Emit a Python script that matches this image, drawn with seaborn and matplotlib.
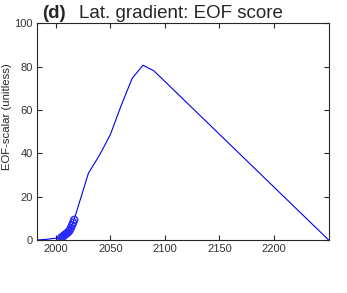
import matplotlib
matplotlib.use("Agg")
import matplotlib.pyplot as plt
import pandas as pd
import seaborn as sns

# EOF score of the latitudinal gradient
# observed years (plotted with circles)
obs_years = [2005, 2006, 2007, 2008, 2009, 2010, 2011, 2012, 2013, 2014, 2015, 2016, 2017]
obs_score = [1.0, 1.4, 1.8, 2.2, 2.6, 3.0, 3.4, 3.9, 4.6, 5.6, 6.8, 8.0, 9.3]

# full trajectory (line)
line_years = [1983, 1990, 1995, 2000, 2005, 2008, 2011, 2014, 2017,
              2030, 2040, 2050, 2060, 2070, 2080, 2090, 2250]
line_score = [0.0, 0.2, 0.5, 0.8, 1.0, 2.2, 3.4, 5.6, 9.6,
              30.8, 39.0, 48.5, 62.0, 74.5, 80.6, 78.0, 0.0]

sns.set_style("ticks")
plt.rcParams["font.family"] = ["Liberation Sans", "DejaVu Sans"]

lineDf = pd.DataFrame({"Year": line_years, "Score": line_score})
obsDf = pd.DataFrame({"Year": obs_years, "Score": obs_score})

fig = plt.figure(figsize=(3.47, 2.93), dpi=100)
ax = fig.add_axes([0.107, 0.181, 0.840, 0.740])

sns.lineplot(data=lineDf, x="Year", y="Score", color="#0000ee", linewidth=0.8, ax=ax)
sns.scatterplot(data=obsDf, x="Year", y="Score", marker="o", s=24,
                facecolor="none", edgecolor="#2a2aff", linewidth=1.1, ax=ax, zorder=3)

ax.set_xlim(1983, 2250)
ax.set_ylim(0, 100)
ax.set_xticks([2000, 2050, 2100, 2150, 2200])
ax.set_yticks([0, 20, 40, 60, 80, 100])
ax.set_xlabel("")
ax.set_ylabel("EOF-scalar (unitless)", fontsize=8.2, color="#262626")
ax.yaxis.set_label_coords(-0.085, 0.567)

ax.tick_params(direction="in", length=3.5, width=0.8, bottom=True, left=True,
               top=True, right=True, labelsize=8, colors="#262626",
               labelcolor="#333333", pad=3)
for side in ax.spines.values():
    side.set_visible(True)
    side.set_color("#262626")
    side.set_linewidth(0.8)

ax.text(0.017, 1.025, "(d)", transform=ax.transAxes, fontsize=13.5,
        fontweight="bold", va="baseline", ha="left")
ax.text(0.145, 1.025, "Lat. gradient: EOF score", transform=ax.transAxes,
        fontsize=13.5, va="baseline", ha="left")

plt.savefig("out.png", dpi=100)
